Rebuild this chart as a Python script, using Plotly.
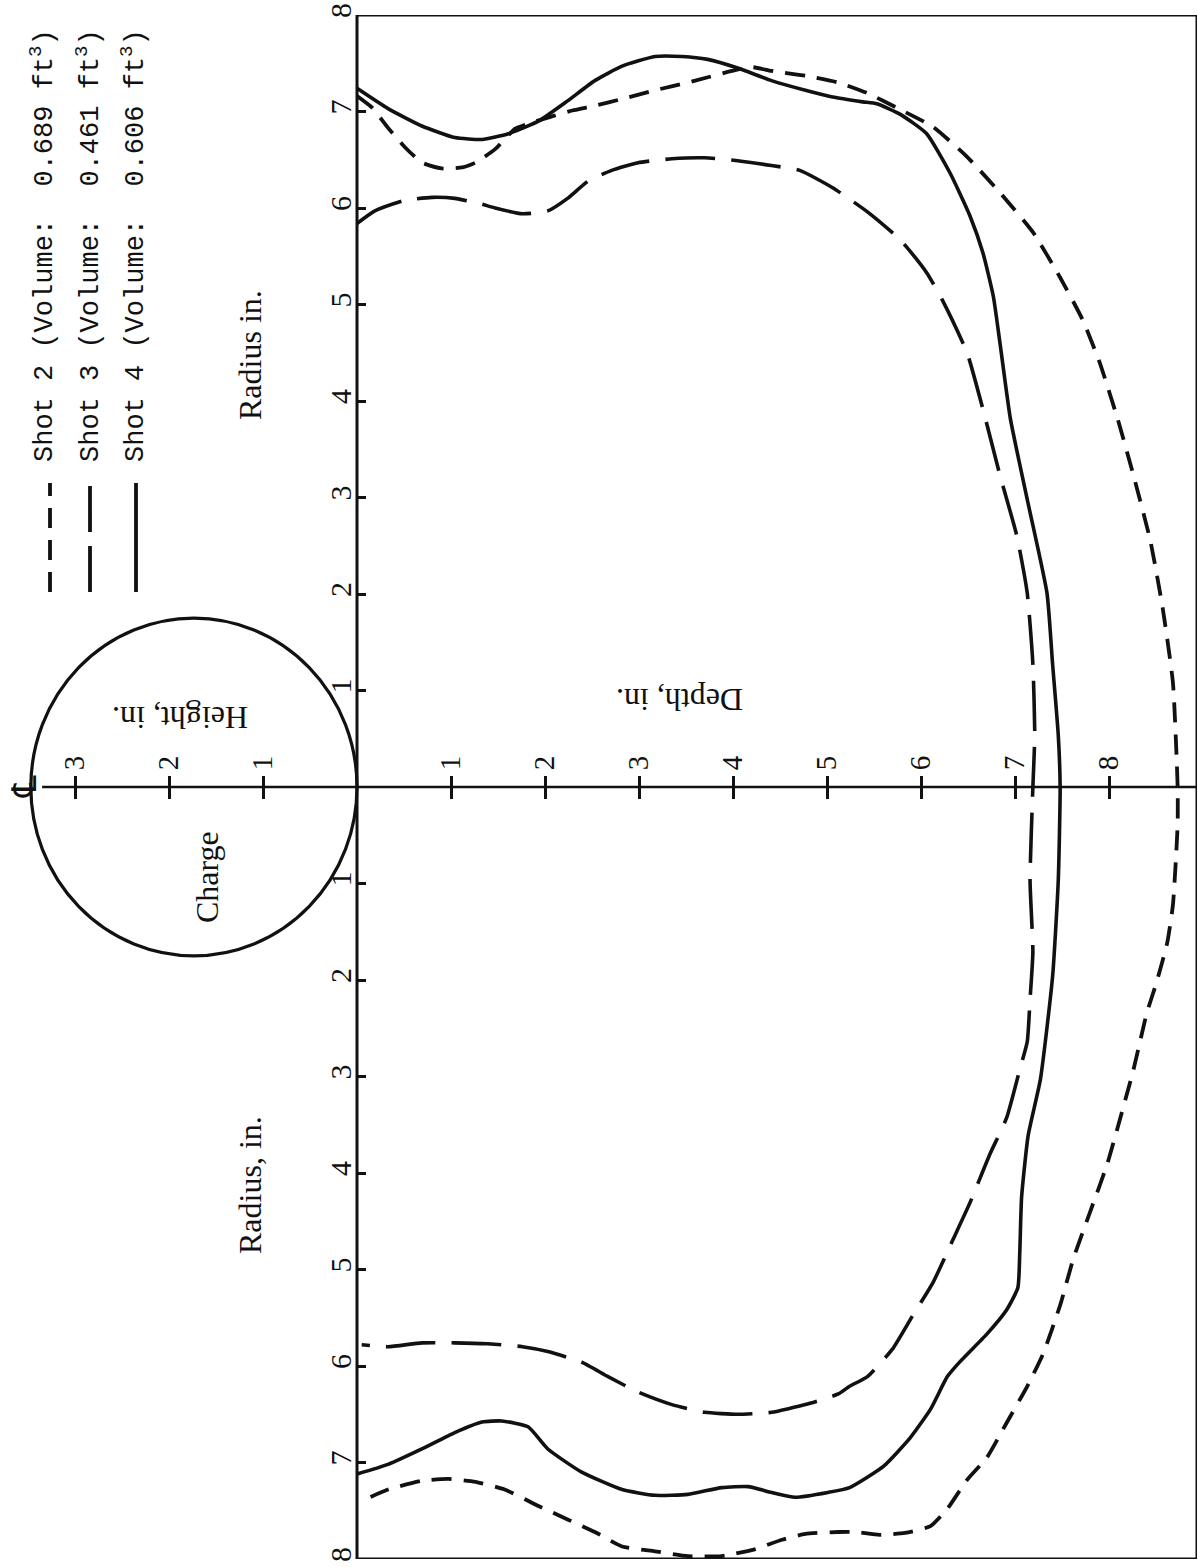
import plotly.graph_objects as go

# ---------------- data (depth in inches, radius in inches) ----------------
shot2_depth = [0.0, 0.16, 0.33, 0.51, 0.69, 0.90, 1.12, 1.26, 1.47, 1.68, 1.84, 2.29, 2.53, 2.82,
               3.17, 3.52, 3.99, 4.20, 4.41, 4.77, 5.12, 5.43, 5.78, 6.13, 6.49, 6.84, 7.19,
               7.48, 7.72, 7.90, 8.09, 8.26, 8.44, 8.57, 8.68, 8.73,
               8.73, 8.68, 8.62, 8.51, 8.40, 8.26, 8.12, 7.98, 7.80, 7.62, 7.48, 7.30, 7.13,
               6.91, 6.70, 6.49, 6.28, 6.10, 5.83, 5.56, 5.30, 5.12, 4.77, 4.52, 4.23, 3.88,
               3.52, 3.17, 2.82, 2.53, 2.24, 1.93, 1.57, 1.26, 0.97, 0.69, 0.33, 0.09]
shot2_radius = [7.16, 7.04, 6.83, 6.63, 6.47, 6.41, 6.42, 6.47, 6.61, 6.82, 6.88, 7.01, 7.06, 7.13,
                7.22, 7.30, 7.42, 7.46, 7.42, 7.37, 7.30, 7.19, 7.02, 6.84, 6.53, 6.16, 5.75,
                5.28, 4.84, 4.40, 3.82, 3.23, 2.55, 1.86, 1.08, 0.0,
                -0.39, -1.22, -1.61, -2.01, -2.35, -2.93, -3.43, -3.91, -4.40, -4.89, -5.37, -5.87, -6.21,
                -6.59, -6.95, -7.18, -7.48, -7.66, -7.73, -7.75, -7.72, -7.72, -7.74, -7.80, -7.90, -7.97,
                -7.97, -7.92, -7.87, -7.72, -7.59, -7.45, -7.28, -7.20, -7.17, -7.19, -7.28, -7.38]

shot3_depth = [0.0, 0.19, 0.51, 0.80, 1.04, 1.29, 1.47, 1.76, 2.03, 2.24, 2.46, 2.71, 2.99, 3.35,
               3.70, 4.05, 4.41, 4.71, 5.06, 5.43, 5.78, 6.06, 6.23, 6.49, 6.66, 6.84, 7.02,
               7.13, 7.19, 7.21, 7.19,
               7.16, 7.19, 7.16, 7.13, 7.05, 6.91, 6.73, 6.52, 6.34, 6.13, 5.91, 5.70, 5.43,
               5.24, 5.12, 4.77, 4.41, 4.05, 3.70, 3.35, 2.99, 2.67, 2.39, 2.03, 1.76, 1.39,
               1.04, 0.69, 0.33, 0.05]
shot3_radius = [5.84, 5.97, 6.08, 6.11, 6.10, 6.05, 6.00, 5.94, 5.97, 6.10, 6.28, 6.39, 6.47, 6.51,
                6.52, 6.49, 6.44, 6.39, 6.21, 5.96, 5.67, 5.33, 5.04, 4.50, 3.91, 3.23, 2.60,
                2.01, 1.27, 0.54, 0.0,
                -0.97, -1.71, -2.20, -2.64, -2.93, -3.43, -3.81, -4.31, -4.69, -5.13, -5.48, -5.82, -6.11,
                -6.21, -6.29, -6.40, -6.48, -6.50, -6.48, -6.40, -6.27, -6.11, -5.96, -5.85, -5.80, -5.77,
                -5.76, -5.76, -5.80, -5.78]

shot4_depth = [0.0, 0.33, 0.69, 1.04, 1.33, 1.61, 1.93, 2.24, 2.53, 2.82, 3.17, 3.46, 3.73, 4.05,
               4.41, 4.77, 5.06, 5.38, 5.53, 5.78, 6.06, 6.31, 6.52, 6.66, 6.77, 6.84, 6.95,
               7.13, 7.34, 7.40, 7.46, 7.48,
               7.46, 7.40, 7.27, 7.14, 7.07, 7.05, 7.03, 6.91, 6.70, 6.41, 6.28, 6.10, 5.88,
               5.60, 5.24, 5.01, 4.66, 4.41, 4.16, 3.88, 3.52, 3.17, 2.82, 2.39, 2.03, 1.82,
               1.54, 1.33, 1.04, 0.69, 0.33, 0.0]
shot4_radius = [7.24, 7.03, 6.85, 6.73, 6.71, 6.77, 6.90, 7.11, 7.32, 7.47, 7.57, 7.57, 7.54, 7.45,
                7.32, 7.22, 7.15, 7.10, 7.08, 6.97, 6.77, 6.36, 5.92, 5.53, 5.08, 4.60, 3.82,
                2.98, 2.01, 1.27, 0.54, 0.0,
                -0.97, -1.96, -3.03, -3.61, -4.25, -4.84, -5.19, -5.42, -5.67, -5.96, -6.11, -6.45, -6.75,
                -7.04, -7.26, -7.31, -7.36, -7.31, -7.25, -7.26, -7.33, -7.34, -7.28, -7.10, -6.86, -6.63,
                -6.57, -6.58, -6.69, -6.86, -7.02, -7.12]

shot_names = ["Shot 2", "Shot 3", "Shot 4"]
shot_volumes = ["0.689", "0.461", "0.606"]

depth_ticks = [-3, -2, -1, 1, 2, 3, 4, 5, 6, 7, 8]
depth_ticktext = ["3", "2", "1", "1", "2", "3", "4", "5", "6", "7", "8"]
radius_ticks = [-8, -7, -6, -5, -4, -3, -2, -1, 1, 2, 3, 4, 5, 6, 7, 8]
radius_ticktext = ["8", "7", "6", "5", "4", "3", "2", "1", "1", "2", "3", "4", "5", "6", "7", "8"]

charge_height = 3.47      # charge diameter (height above surface), in.
charge_half_width = 1.75  # charge radius, in.

X_MIN, X_MAX = -3.798, 8.936
Y_MIN, Y_MAX = -8.0, 8.0
CENTERLINE_START = -3.35

# ---------------- figure geometry ----------------
W, H = 1198, 1567
ML, MR, MT, MB = 0, 1, 15, 8
PW, PH = W - ML - MR, H - MT - MB
MONO = "Liberation Mono, Courier New, monospace"
SERIF = "Liberation Serif, DejaVu Serif, serif"


def pxx(x):
    return (x - ML) / PW


def pxy(y):
    return (H - MB - y) / PH


ink = "#111111"
dash2 = "20px,12px"
dash3 = "50px,16px"

fig = go.Figure()
fig.add_trace(go.Scatter(x=shot2_depth, y=shot2_radius, mode="lines", name=shot_names[0],
                         line=dict(color=ink, width=3.8, dash=dash2, shape="spline", smoothing=0.5),
                         hoverinfo="skip"))
fig.add_trace(go.Scatter(x=shot3_depth, y=shot3_radius, mode="lines", name=shot_names[1],
                         line=dict(color=ink, width=3.6, dash=dash3, shape="spline", smoothing=0.5),
                         hoverinfo="skip"))
fig.add_trace(go.Scatter(x=shot4_depth, y=shot4_radius, mode="lines", name=shot_names[2],
                         xaxis="x2",
                         line=dict(color=ink, width=3.6, shape="spline", smoothing=0.5),
                         hoverinfo="skip"))

shapes = [
    dict(type="rect", xref="x", yref="y", x0=0, x1=X_MAX, y0=Y_MIN, y1=Y_MAX,
         line=dict(color=ink, width=3), layer="below"),
    dict(type="line", xref="x", yref="y", x0=CENTERLINE_START, x1=X_MAX, y0=0, y1=0,
         line=dict(color=ink, width=2.5), layer="below"),
    dict(type="circle", xref="x", yref="y", x0=-charge_height, x1=0,
         y0=-charge_half_width, y1=charge_half_width, line=dict(color=ink, width=3.2)),
]

leg_x = [50, 90, 136]
leg_dash = [dash2, "46px,14px", "solid"]
for lx, ld in zip(leg_x, leg_dash):
    shapes.append(dict(type="line", xref="paper", yref="paper", x0=pxx(lx), x1=pxx(lx),
                       y0=pxy(592), y1=pxy(483), line=dict(color=ink, width=3.8, dash=ld)))

annotations = []
leg_text_x = [43, 89, 134]
for tx, nm, vol in zip(leg_text_x, shot_names, shot_volumes):
    annotations.append(dict(xref="paper", yref="paper", x=pxx(tx), y=pxy(246),
                            text=f"{nm} (Volume:  {vol} ft<sup>3</sup>)", textangle=-90,
                            showarrow=False, xanchor="center", yanchor="middle",
                            font=dict(family=MONO, size=27, color=ink)))

labels = [
    ("Radius in.", 250, 355, -90),
    ("Radius, in.", 250, 1185, -90),
    ("Depth, in.", 680, 700, 180),
    ("Height, in.", 180, 718, 180),
    ("Charge", 207, 877, -90),
]
for txt, lx, ly, ang in labels:
    annotations.append(dict(xref="paper", yref="paper", x=pxx(lx), y=pxy(ly), text=txt,
                            textangle=ang, showarrow=False, xanchor="center", yanchor="middle",
                            font=dict(family=SERIF, size=32, color=ink)))
annotations.append(dict(xref="paper", yref="paper", x=pxx(24), y=pxy(787), text="\u2104",
                        textangle=-90, showarrow=False, xanchor="center", yanchor="middle",
                        font=dict(family="DejaVu Sans", size=34, color=ink)))

fig.update_layout(
    width=W, height=H,
    margin=dict(l=ML, r=MR, t=MT, b=MB, pad=0),
    paper_bgcolor="white", plot_bgcolor="white",
    showlegend=False,
    shapes=shapes,
    annotations=annotations,
    xaxis=dict(range=[X_MIN, X_MAX], domain=[0, 1], anchor="free", position=0.5,
               side="top", showline=False, zeroline=False, showgrid=False,
               ticks="outside", ticklen=11, tickwidth=2.5, tickcolor=ink,
               tickvals=depth_ticks, ticktext=depth_ticktext, tickangle=-90,
               tickfont=dict(family=SERIF, size=29, color=ink)),
    xaxis2=dict(range=[X_MIN, X_MAX], matches="x", overlaying="x", anchor="free", position=0.5,
                side="bottom", showline=False, zeroline=False, showgrid=False,
                ticks="outside", ticklen=11, tickwidth=2.5, tickcolor=ink,
                tickvals=depth_ticks, showticklabels=False),
    yaxis=dict(range=[Y_MIN, Y_MAX], domain=[0, 1], anchor="free", position=(357 - ML) / PW,
               side="left", showline=False, zeroline=False, showgrid=False,
               ticks="inside", ticklen=8, tickwidth=2.5, tickcolor=ink,
               tickvals=radius_ticks, ticktext=radius_ticktext, tickangle=-90,
               tickfont=dict(family=SERIF, size=30, color=ink)),
)

fig.write_html("out.html", config={"displayModeBar": False},
               post_script="document.body.style.margin='0';document.body.style.overflow='hidden';")
